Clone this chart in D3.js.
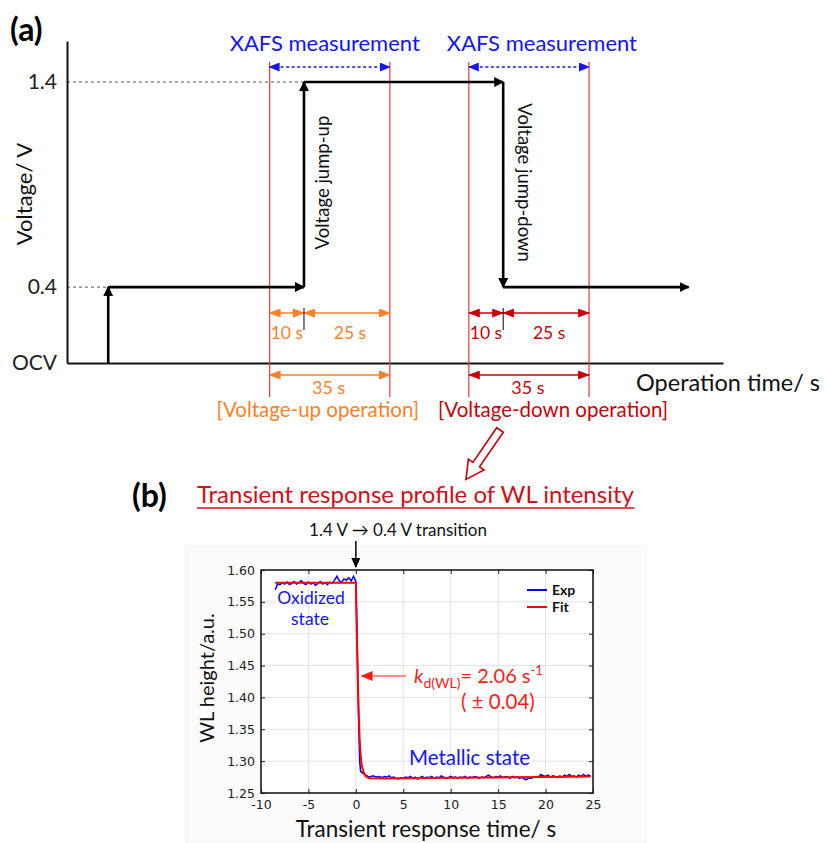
<!DOCTYPE html>
<html>
<head>
<meta charset="utf-8">
<script src="https://cdn.jsdelivr.net/npm/d3@7"></script>
<style>
  body { margin: 0; background: #fff; }
  text { font-family: Lato, 'Open Sans', sans-serif; }
</style>
</head>
<body>
<script>
// ---- panel (a) data ----
var voltageLevels = [
  {label: 'OCV', v: 0.03},
  {label: '0.4', v: 0.4},
  {label: '1.4', v: 1.4}
];
// step profile vertices [operation time, voltage]
var stepProfile = [[12, 0.03], [12, 0.4], [69, 0.4], [69, 1.4], [127, 1.4], [127, 0.4], [181, 0.4]];
var xafsWindows = [
  {start: 59, jump: 69, end: 94, color: '#ff7f27', jumpLabel: 'Voltage jump-up', opLabel: '[Voltage-up operation]'},
  {start: 117, jump: 127, end: 152, color: '#c8000a', jumpLabel: 'Voltage jump-down', opLabel: '[Voltage-down operation]'}
];

// ---- panel (b) data ----
var xTicksB = [-10, -5, 0, 5, 10, 15, 20, 25];
var yTicksB = [1.25, 1.30, 1.35, 1.40, 1.45, 1.50, 1.55, 1.60];
var expData = [
  [-8.5, 1.569], [-8.25, 1.578], [-8.0, 1.577], [-7.75, 1.580], [-7.5, 1.578], [-7.25, 1.581], [-7.0, 1.577],
  [-6.75, 1.579], [-6.5, 1.582], [-6.25, 1.578], [-6.0, 1.580], [-5.75, 1.583], [-5.5, 1.579], [-5.25, 1.577],
  [-5.0, 1.581], [-4.75, 1.578], [-4.5, 1.580], [-4.25, 1.576], [-4.0, 1.579], [-3.75, 1.582], [-3.5, 1.578],
  [-3.25, 1.580], [-3.0, 1.577], [-2.75, 1.581], [-2.5, 1.579], [-2.25, 1.584], [-2.0, 1.590], [-1.75, 1.583],
  [-1.5, 1.581], [-1.25, 1.586], [-1.0, 1.584], [-0.75, 1.588], [-0.5, 1.583], [-0.25, 1.590], [0.0, 1.582],
  [0.1, 1.52], [0.2, 1.44], [0.3, 1.36], [0.4, 1.30], [0.5, 1.284], [0.75, 1.281], [1.0, 1.279], [1.25, 1.276],
  [1.5, 1.275], [1.75, 1.277], [2.0, 1.276], [2.25, 1.275], [2.5, 1.276], [2.75, 1.274], [3.0, 1.276],
  [3.25, 1.275], [3.5, 1.277], [3.75, 1.274], [4.0, 1.275], [4.25, 1.273], [4.5, 1.272], [4.75, 1.274],
  [5.0, 1.273], [5.25, 1.275], [5.5, 1.274], [5.75, 1.276], [6.0, 1.273], [6.25, 1.275], [6.5, 1.272],
  [6.75, 1.274], [7.0, 1.276], [7.25, 1.273], [7.5, 1.275], [7.75, 1.274], [8.0, 1.276], [8.25, 1.273],
  [8.5, 1.275], [8.75, 1.274], [9.0, 1.277], [9.25, 1.275], [9.5, 1.273], [9.75, 1.274], [10.0, 1.276],
  [10.25, 1.274], [10.5, 1.275], [10.75, 1.273], [11.0, 1.275], [11.25, 1.274], [11.5, 1.276], [11.75, 1.273],
  [12.0, 1.275], [12.25, 1.274], [12.5, 1.276], [12.75, 1.275], [13.0, 1.273], [13.25, 1.275], [13.5, 1.274],
  [13.75, 1.276], [14.0, 1.278], [14.25, 1.275], [14.5, 1.274], [14.75, 1.276], [15.0, 1.275], [15.25, 1.277],
  [15.5, 1.274], [15.75, 1.276], [16.0, 1.275], [16.25, 1.273], [16.5, 1.276], [16.75, 1.274], [17.0, 1.275],
  [17.25, 1.273], [17.5, 1.275], [17.75, 1.272], [18.0, 1.271], [18.25, 1.274], [18.5, 1.273], [18.75, 1.275],
  [19.0, 1.276], [19.25, 1.275], [19.5, 1.279], [19.75, 1.277], [20.0, 1.276], [20.25, 1.278], [20.5, 1.275],
  [20.75, 1.277], [21.0, 1.276], [21.25, 1.274], [21.5, 1.277], [21.75, 1.275], [22.0, 1.278], [22.25, 1.276],
  [22.5, 1.279], [22.75, 1.276], [23.0, 1.277], [23.25, 1.275], [23.5, 1.278], [23.75, 1.276], [24.0, 1.279],
  [24.25, 1.276], [24.5, 1.278], [24.75, 1.277]
];
var fitData = [
  [-8.5, 1.580], [0, 1.580], [0.1, 1.50], [0.2, 1.43], [0.3, 1.375], [0.4, 1.335], [0.5, 1.31], [0.6, 1.295],
  [0.8, 1.283], [1.0, 1.277], [1.3, 1.274], [1.6, 1.273], [3, 1.2728], [6, 1.2732], [10, 1.2738], [15, 1.2744],
  [20, 1.275], [24.75, 1.2757]
];

var BLUE = '#1414ff'
  , LINE_RED = '#e8383c';

var svg = d3.select('body').append('svg')
  .attr('width', 826)
  .attr('height', 843);

// arrowhead markers
var defs = svg.append('defs');
function marker(id, color, len, wid) {
  defs.append('marker')
    .attr('id', id)
    .attr('markerUnits', 'userSpaceOnUse')
    .attr('viewBox', '0 0 ' + len + ' ' + wid)
    .attr('markerWidth', len)
    .attr('markerHeight', wid)
    .attr('refX', len - 1)
    .attr('refY', wid / 2)
    .attr('orient', 'auto-start-reverse')
    .append('path')
    .attr('d', 'M0,0L' + len + ',' + (wid / 2) + 'L0,' + wid + 'Z')
    .attr('fill', color);
}
marker('ah-black', '#000', 10, 10);
marker('ah-blue', BLUE, 11, 9);
xafsWindows.forEach(function (w, i) { marker('ah-win' + i, w.color, 12, 9); });
marker('ah-red', '#ff1a1a', 12, 10);
marker('ah-small', '#000', 10, 9);

// ================= panel (a) =================
var xA = d3.scaleLinear().domain([0, 191]).range([67, 723]);
var yA = d3.scaleLinear().domain([0.03, 1.6]).range([363, 41]);

var gA = svg.append('g');

gA.append('text').attr('x', 10).attr('y', 41)
  .style('font', 'bold 32px Lato, sans-serif').text('(a)');

// dashed guides to the voltage levels
[[1.4, 69], [0.4, 12]].forEach(function (d) {
  gA.append('line')
    .attr('x1', xA(0)).attr('x2', xA(d[1]))
    .attr('y1', yA(d[0])).attr('y2', yA(d[0]))
    .attr('stroke', '#555').attr('stroke-width', 1).attr('stroke-dasharray', '3,3');
});

var yAxisA = d3.axisLeft(yA)
  .tickValues(voltageLevels.map(function (d) { return d.v; }))
  .tickFormat(function (v, i) { return voltageLevels[i].label; })
  .tickSize(0).tickPadding(10);
gA.append('g').attr('transform', 'translate(' + xA(0) + ',0)').call(yAxisA)
  .call(function (g) {
    g.select('.domain').attr('stroke', '#111').attr('stroke-width', 2);
    g.selectAll('text').style('font', '21px Lato, sans-serif').attr('fill', '#222');
  });

var xAxisA = d3.axisBottom(xA).tickValues([]).tickSizeOuter(0);
gA.append('g').attr('transform', 'translate(0,' + yA(0.03) + ')').call(xAxisA)
  .call(function (g) { g.select('.domain').attr('stroke', '#111').attr('stroke-width', 2); });

gA.append('text')
  .attr('transform', 'translate(32,' + 194 + ') rotate(-90)')
  .attr('text-anchor', 'middle')
  .style('font-size', '22px').attr('fill', '#111')
  .text('Voltage/ V');

gA.append('text').attr('x', 636).attr('y', 391)
  .style('font-size', '23.5px').attr('fill', '#111')
  .text('Operation time/ s');

// XAFS windows
var xafsLabelShift = [-5, 13];
xafsWindows.forEach(function (w, i) {
  var x0 = xA(w.start), xj = xA(w.jump), x1 = xA(w.end);
  [x0, x1].forEach(function (x) {
    gA.append('line').attr('x1', x).attr('x2', x).attr('y1', 62).attr('y2', 397)
      .attr('stroke', LINE_RED).attr('stroke-width', 1.2);
  });
  gA.append('line').attr('x1', x0).attr('x2', x1).attr('y1', 67).attr('y2', 67)
    .attr('stroke', BLUE).attr('stroke-width', 1.3).attr('stroke-dasharray', '3,2.5')
    .attr('marker-start', 'url(#ah-blue)').attr('marker-end', 'url(#ah-blue)');
  gA.append('text').attr('x', (x0 + x1) / 2 + xafsLabelShift[i]).attr('y', 51)
    .attr('text-anchor', 'middle').style('font-size', '22px').attr('fill', BLUE)
    .text('XAFS measurement');

  // duration dimension arrows
  [[x0, xj, w.jump - w.start], [xj, x1, w.end - w.jump]].forEach(function (d) {
    gA.append('line').attr('x1', d[0]).attr('x2', d[1]).attr('y1', 313).attr('y2', 313)
      .attr('stroke', w.color).attr('stroke-width', 1.5)
      .attr('marker-start', 'url(#ah-win' + i + ')').attr('marker-end', 'url(#ah-win' + i + ')');
    gA.append('text').attr('x', (d[0] + d[1]) / 2 + (d[2] > 15 ? 3 : 0)).attr('y', 339)
      .attr('text-anchor', 'middle').style('font-size', '17.5px').attr('fill', w.color)
      .text(d[2] + ' s');
  });
  gA.append('line').attr('x1', xj).attr('x2', xj).attr('y1', 308).attr('y2', 330)
    .attr('stroke', '#000').attr('stroke-width', 1);

  gA.append('line').attr('x1', x0).attr('x2', x1).attr('y1', 375).attr('y2', 375)
    .attr('stroke', w.color).attr('stroke-width', 1.5)
    .attr('marker-start', 'url(#ah-win' + i + ')').attr('marker-end', 'url(#ah-win' + i + ')');
  gA.append('text').attr('x', (x0 + x1) / 2 - 1).attr('y', 394)
    .attr('text-anchor', 'middle').style('font-size', '18px').attr('fill', w.color)
    .text((w.end - w.start) + ' s');
  gA.append('text').attr('x', (x0 + x1) / 2 + (i === 0 ? -12 : 24)).attr('y', 417)
    .attr('text-anchor', 'middle').style('font-size', '20.5px').attr('fill', w.color)
    .text(w.opLabel);

  var ym = (yA(0.4) + yA(1.4)) / 2 - 2;
  gA.append('text')
    .attr('transform', 'translate(' + (xj + (i === 0 ? 25 : 15)) + ',' + ym + ') rotate(' + (i === 0 ? -90 : 90) + ')')
    .attr('text-anchor', 'middle').style('font-size', '18.5px').attr('fill', '#111')
    .text(w.jumpLabel);
});

// voltage step profile, one arrow per segment
d3.pairs(stepProfile).forEach(function (p) {
  gA.append('line')
    .attr('x1', xA(p[0][0])).attr('y1', yA(p[0][1]))
    .attr('x2', xA(p[1][0])).attr('y2', yA(p[1][1]))
    .attr('stroke', '#000').attr('stroke-width', 2.6)
    .attr('marker-end', 'url(#ah-black)');
});

// hollow arrow leading to panel (b)
svg.append('path')
  .attr('transform', 'translate(500,430) rotate(124.5)')
  .attr('d', 'M0,-4L42,-4L42,-9.5L60,0L42,9.5L42,4L0,4Z')
  .attr('fill', '#fff').attr('stroke', '#c8000a').attr('stroke-width', 1.6);

// ================= panel (b) =================
var xB = d3.scaleLinear().domain([-10, 25]).range([261, 593]);
var yB = d3.scaleLinear().domain([1.25, 1.60]).range([793, 570]);
var gB = svg.append('g');

// faint backdrop of the pasted plot image
gB.append('rect').attr('x', 186).attr('y', 546).attr('width', 460).attr('height', 297)
  .attr('fill', '#fbfbfb').attr('stroke', '#f2f2f2');

gB.append('text').attr('x', 132).attr('y', 507)
  .style('font', 'bold 32px Lato, sans-serif').text('(b)');

var title = gB.append('text').attr('x', 197).attr('y', 503)
  .style('font-size', '24px').attr('fill', '#d0101a')
  .text('Transient response profile of WL intensity');
var tb = title.node().getBBox();
gB.append('line').attr('x1', tb.x).attr('x2', tb.x + tb.width).attr('y1', 508).attr('y2', 508)
  .attr('stroke', '#d0101a').attr('stroke-width', 1.3);

gB.append('text').attr('x', 398).attr('y', 536).attr('text-anchor', 'middle')
  .style('font-size', '17px').attr('fill', '#111')
  .text('1.4 V \u2192 0.4 V transition');
gB.append('line').attr('x1', xB(0)).attr('x2', xB(0)).attr('y1', 541).attr('y2', 567)
  .attr('stroke', '#000').attr('stroke-width', 1.5).attr('marker-end', 'url(#ah-small)');

// plot background and grid
gB.append('rect')
  .attr('x', xB(-10)).attr('y', yB(1.60))
  .attr('width', xB(25) - xB(-10)).attr('height', yB(1.25) - yB(1.60))
  .attr('fill', '#fff');
gB.append('g').selectAll('line.gx').data(xTicksB).enter().append('line')
  .attr('x1', xB).attr('x2', xB).attr('y1', yB(1.25)).attr('y2', yB(1.60))
  .attr('stroke', '#e4e4e4');
gB.append('g').selectAll('line.gy').data(yTicksB).enter().append('line')
  .attr('y1', yB).attr('y2', yB).attr('x1', xB(-10)).attr('x2', xB(25))
  .attr('stroke', '#e4e4e4');

function styleAxis(g) {
  g.select('.domain').remove();
  g.selectAll('line').attr('stroke', '#222');
  g.selectAll('text').style('font', '12.5px "DejaVu Sans", sans-serif').attr('fill', '#222');
}
gB.append('g').attr('transform', 'translate(0,' + yB(1.25) + ')')
  .call(d3.axisBottom(xB).tickValues(xTicksB).tickSize(-4).tickPadding(7).tickFormat(function (d) { return String(d); }))
  .call(styleAxis);
gB.append('g').attr('transform', 'translate(0,' + yB(1.60) + ')')
  .call(d3.axisTop(xB).tickValues(xTicksB).tickSize(-4).tickFormat('')).call(styleAxis);
gB.append('g').attr('transform', 'translate(' + xB(-10) + ',0)')
  .call(d3.axisLeft(yB).tickValues(yTicksB).tickSize(-4).tickPadding(6).tickFormat(d3.format('.2f'))).call(styleAxis);
gB.append('g').attr('transform', 'translate(' + xB(25) + ',0)')
  .call(d3.axisRight(yB).tickValues(yTicksB).tickSize(-4).tickFormat('')).call(styleAxis);

var line = d3.line().x(function (d) { return xB(d[0]); }).y(function (d) { return yB(d[1]); });
gB.append('path').datum(expData).attr('d', line)
  .attr('fill', 'none').attr('stroke', '#0000ff').attr('stroke-width', 1.5);
gB.append('path').datum(fitData).attr('d', line)
  .attr('fill', 'none').attr('stroke', '#ff0000').attr('stroke-width', 2);

gB.append('rect')
  .attr('x', xB(-10)).attr('y', yB(1.60))
  .attr('width', xB(25) - xB(-10)).attr('height', yB(1.25) - yB(1.60))
  .attr('fill', 'none').attr('stroke', '#111').attr('stroke-width', 1.5);

// legend
[['Exp', '#0000ff', 590], ['Fit', '#ff0000', 607]].forEach(function (d) {
  gB.append('line').attr('x1', 527).attr('x2', 547).attr('y1', d[2]).attr('y2', d[2])
    .attr('stroke', d[1]).attr('stroke-width', 2);
  gB.append('text').attr('x', 552).attr('y', d[2] + 5)
    .style('font', 'bold 14px Lato, sans-serif').attr('fill', '#111').text(d[0]);
});

gB.append('text').attr('x', 311).attr('y', 604).attr('text-anchor', 'middle')
  .style('font-size', '17.5px').attr('fill', BLUE).text('Oxidized');
gB.append('text').attr('x', 310).attr('y', 625).attr('text-anchor', 'middle')
  .style('font-size', '17.5px').attr('fill', BLUE).text('state');
gB.append('text').attr('x', 409).attr('y', 765)
  .style('font-size', '20.5px').attr('fill', BLUE).text('Metallic state');

// rate constant annotation
gB.append('line').attr('x1', 406).attr('x2', xB(0.6)).attr('y1', 676).attr('y2', 676)
  .attr('stroke', '#ff1a1a').attr('stroke-width', 1.2).attr('marker-end', 'url(#ah-red)');
var kt = gB.append('text').attr('x', 414).attr('y', 683)
  .style('font-size', '20px').attr('fill', '#ff1a1a');
kt.append('tspan').style('font-style', 'italic').text('k');
kt.append('tspan').attr('dy', 5).style('font-size', '14px').text('d(WL)');
kt.append('tspan').attr('dy', -5).text('= 2.06 s');
kt.append('tspan').attr('dy', -8).style('font-size', '13px').text('-1');
gB.append('text').attr('x', 461).attr('y', 709)
  .style('font-size', '20.5px').attr('fill', '#ff1a1a').text('( \u00b1 0.04)');

gB.append('text')
  .attr('transform', 'translate(214,' + 678 + ') rotate(-90)')
  .attr('text-anchor', 'middle').style('font-size', '20px').attr('fill', '#111')
  .text('WL height/a.u.');
gB.append('text').attr('x', 426).attr('y', 837).attr('text-anchor', 'middle')
  .style('font-size', '22.5px').attr('fill', '#111')
  .text('Transient response time/ s');
</script>
</body>
</html>
